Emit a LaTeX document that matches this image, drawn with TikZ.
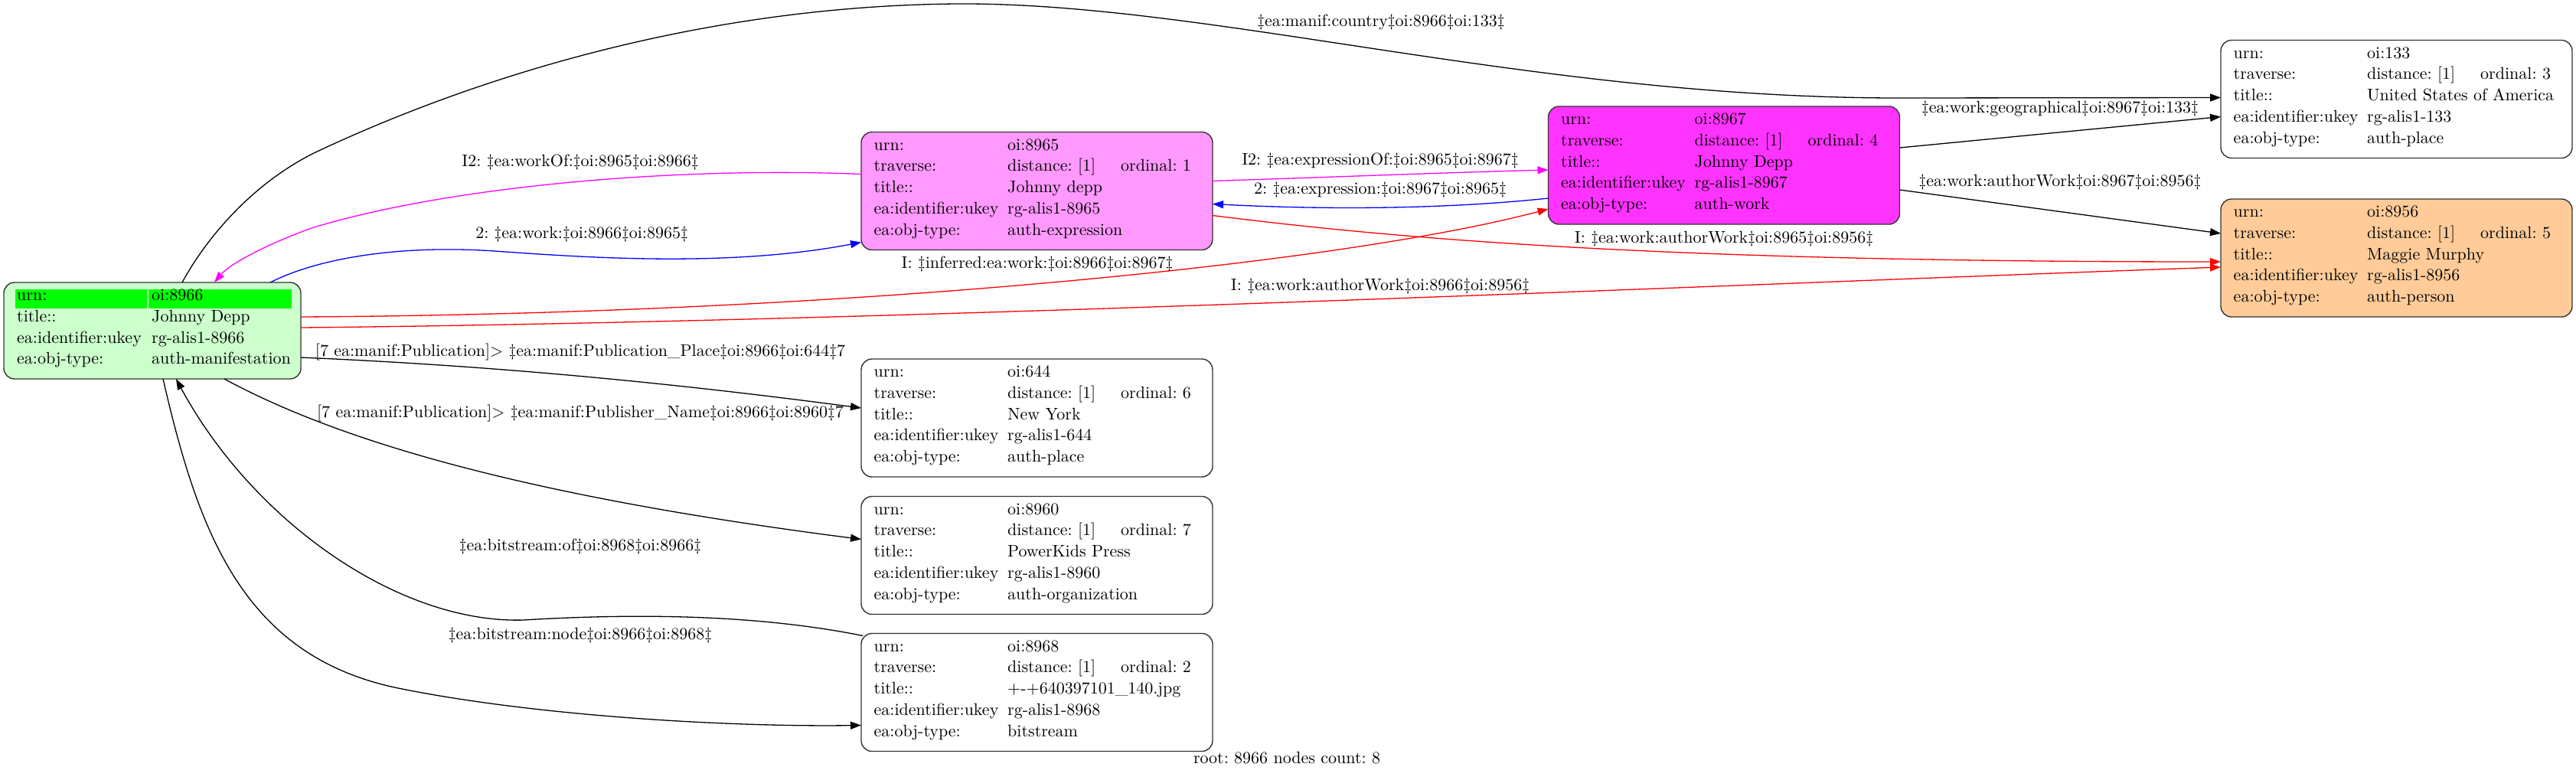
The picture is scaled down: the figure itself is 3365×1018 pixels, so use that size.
\documentclass[tikz,border=0pt]{standalone}
\usepackage{fontspec}
\setmainfont{lmroman10-regular.otf}
\usetikzlibrary{arrows.meta,calc}
\frenchspacing
\definecolor{lgreen}{HTML}{CCFFCC}
\definecolor{pgreen}{HTML}{00FF00}
\definecolor{pinkA}{HTML}{FF99FF}
\definecolor{magA}{HTML}{FF33FF}
\definecolor{peach}{HTML}{FFCC99}
\definecolor{magE}{HTML}{FF00FF}
\definecolor{blueE}{HTML}{0000FF}
\definecolor{redE}{HTML}{FF0000}
\newcommand\nf{\fontsize{22}{26}\selectfont\frenchspacing}
\tikzset{
  box/.style={draw=black!80, line width=1.4pt, rounded corners=14pt, minimum width=459pt, minimum height=154pt, inner sep=0pt, outer sep=0pt},
  cell/.style={anchor=mid west, inner sep=0pt, font=\nf},
  lbl/.style={anchor=mid, inner sep=0pt, font=\nf},
  edge/.style={line width=1.3pt, -{Triangle[length=14pt,width=10pt]}},
  gcell/.style={fill=pgreen, draw=none, anchor=north west, minimum height=25pt, inner sep=0pt},
}
\newcommand\recnode[9]{%
  \node[box,#4] (#1) at (#2,#3) {};
  \node[cell] (#1-a1) at ($(#1.west)+(16.5,-55.5)$) {urn:};
  \node[cell] (#1-b1) at ($(#1.west)+(191,-55.5)$) {#5};
  \node[cell] (#1-a2) at ($(#1.west)+(16.5,-27.75)$) {traverse:};
  \node[cell] (#1-b2) at ($(#1.west)+(191,-27.75)$) {distance: [1]};
  \node[cell] (#1-c2) at ($(#1.west)+(339,-27.75)$) {ordinal: #6};
  \node[cell] (#1-a3) at ($(#1.west)+(16.5,0)$) {title::};
  \node[cell] (#1-b3) at ($(#1.west)+(191,0)$) {#7};
  \node[cell] (#1-a4) at ($(#1.west)+(16.5,27.75)$) {ea:identifier:ukey};
  \node[cell] (#1-b4) at ($(#1.west)+(191,27.75)$) {#8};
  \node[cell] (#1-a5) at ($(#1.west)+(16.5,55.5)$) {ea:obj-type:};
  \node[cell] (#1-b5) at ($(#1.west)+(191,55.5)$) {#9};
}
\begin{document}
\begin{tikzpicture}[x=1pt,y=-1pt]
\useasboundingbox[fill=white] (0,0) rectangle (3365,1018);

% root node
\node[box, fill=lgreen, minimum width=388pt, minimum height=126pt] (n8966) at (199,432) {};
\node[gcell, minimum width=172.4pt] (g1) at ($(n8966.north west)+(14.3,8.7)$) {};
\node[gcell, minimum width=186.7pt] (g2) at ($(n8966.north west)+(189,8.7)$) {};
\node[cell] (r-a1) at ($(n8966.west)+(17,-41.6)$) {urn:};
\node[cell] (r-b1) at ($(n8966.west)+(193,-41.6)$) {oi:8966};
\node[cell] (r-a2) at ($(n8966.west)+(17,-13.9)$) {title::};
\node[cell] (r-b2) at ($(n8966.west)+(193,-13.9)$) {Johnny Depp};
\node[cell] (r-a3) at ($(n8966.west)+(17,13.9)$) {ea:identifier:ukey};
\node[cell] (r-b3) at ($(n8966.west)+(193,13.9)$) {rg-alis1-8966};
\node[cell] (r-a4) at ($(n8966.west)+(17,41.6)$) {ea:obj-type:};
\node[cell] (r-b4) at ($(n8966.west)+(193,41.6)$) {auth-manifestation};

\recnode{n8965}{1354.5}{249.5}{fill=pinkA}{oi:8965}{1}{Johnny depp}{rg-alis1-8965}{auth-expression}
\recnode{n8967}{2252}{216}{fill=magA}{oi:8967}{4}{Johnny Depp}{rg-alis1-8967}{auth-work}
\recnode{n133}{3130.5}{129.5}{fill=white}{oi:133}{3}{United States of America}{rg-alis1-133}{auth-place}
\recnode{n8956}{3130.5}{337}{fill=peach}{oi:8956}{5}{Maggie Murphy}{rg-alis1-8956}{auth-person}
\recnode{n644}{1354.5}{546}{fill=white}{oi:644}{6}{New York}{rg-alis1-644}{auth-place}
\recnode{n8960}{1354.5}{725.5}{fill=white}{oi:8960}{7}{PowerKids Press}{rg-alis1-8960}{auth-organization}
\recnode{n8968}{1354.5}{904.5}{fill=white}{oi:8968}{2}{+-+640397101\_140.jpg}{rg-alis1-8968}{bitstream}

% edges
\draw[edge] ($(n8966.north west)+(233,0)$) .. controls (270,310) and (330,240) .. (410,200)
  .. controls (600,110) and (900,8) .. (1250,5) .. controls (1580,3) and (2000,128) .. (2480,128)
  -- ($(n133.north west)+(0,75)$);
\draw[edge, blueE] ($(n8966.north west)+(348,0)$) .. controls (420,335) and (530,320) .. (646,328)
  .. controls (760,336) and (950,350) .. ($(n8965.north west)+(0,144)$);
\draw[edge, magE] ($(n8965.north west)+(0,55)$) .. controls (900,218) and (600,240) .. (410,297)
  .. controls (350,318) and (300,345) .. ($(n8966.north west)+(275,0)$);
\draw[edge, magE] ($(n8965.north east)+(0,64)$) .. controls (1750,231) and (1900,225) .. ($(n8967.north west)+(0,83)$);
\draw[edge, blueE] ($(n8967.north west)+(0,120)$) .. controls (1900,272) and (1750,275) .. ($(n8965.north east)+(0,94)$);
\draw[edge, redE] ($(n8965.north east)+(0,109)$) .. controls (1850,315) and (2200,342) .. ($(n8956.north west)+(0,82)$);
\draw[edge, redE] ($(n8966.north east)+(0,45)$) .. controls (1100,410) and (1750,345) .. ($(n8967.north west)+(0,134)$);
\draw[edge, redE] ($(n8966.north east)+(0,59)$) .. controls (1200,420) and (2300,370) .. ($(n8956.north west)+(0,89)$);
\draw[edge] ($(n8966.north east)+(0,98)$) .. controls (700,480) and (950,510) .. ($(n644.north west)+(0,64)$);
\draw[edge] ($(n8966.south west)+(288,0)$) .. controls (450,580) and (700,650) .. ($(n8960.north west)+(0,56)$);
\draw[edge] ($(n8968.north west)+(2,3)$) .. controls (1000,805) and (850,800) .. (684,810)
  .. controls (520,815) and (330,680) .. ($(n8966.south west)+(225,0)$);
\draw[edge] ($(n8966.south west)+(208,0)$) .. controls (260,700) and (320,860) .. (525,900)
  .. controls (700,935) and (950,950) .. ($(n8968.north west)+(0,120)$);
\draw[edge] ($(n8967.north east)+(0,54)$) -- ($(n133.north west)+(0,100)$);
\draw[edge] ($(n8967.north east)+(0,109)$) -- ($(n8956.north west)+(0,45)$);

% edge labels
\node[lbl] (l1) at (1804,32) {‡ea:manif:country‡oi:8966‡oi:133‡};
\node[lbl] (l2) at (760,309) {2: ‡ea:work:‡oi:8966‡oi:8965‡};
\node[lbl] (l3) at (758,215) {I2: ‡ea:workOf:‡oi:8965‡oi:8966‡};
\node[lbl] (l4) at (1803,213) {I2: ‡ea:expressionOf:‡oi:8965‡oi:8967‡};
\node[lbl] (l5) at (1803,251) {2: ‡ea:expression:‡oi:8967‡oi:8965‡};
\node[lbl] (l6) at (2252,315) {I: ‡ea:work:authorWork‡oi:8965‡oi:8956‡};
\node[lbl] (l7) at (1355,348) {I: ‡inferred:ea:work:‡oi:8966‡oi:8967‡};
\node[lbl] (l8) at (1803,377) {I: ‡ea:work:authorWork‡oi:8966‡oi:8956‡};
\node[lbl] (l9) at (758,463) {[7 ea:manif:Publication]> ‡ea:manif:Publication\_Place‡oi:8966‡oi:644‡7};
\node[lbl] (l10) at (758,543) {[7 ea:manif:Publication]> ‡ea:manif:Publisher\_Name‡oi:8966‡oi:8960‡7};
\node[lbl] (l11) at (758,717) {‡ea:bitstream:of‡oi:8968‡oi:8966‡};
\node[lbl] (l12) at (758,833) {‡ea:bitstream:node‡oi:8966‡oi:8968‡};
\node[lbl] (l13) at (2691,145) {‡ea:work:geographical‡oi:8967‡oi:133‡};
\node[lbl] (l14) at (2691,241) {‡ea:work:authorWork‡oi:8967‡oi:8956‡};
\node[lbl] (root) at (1681,995) {root: 8966 nodes count: 8};
\end{tikzpicture}
\end{document}
